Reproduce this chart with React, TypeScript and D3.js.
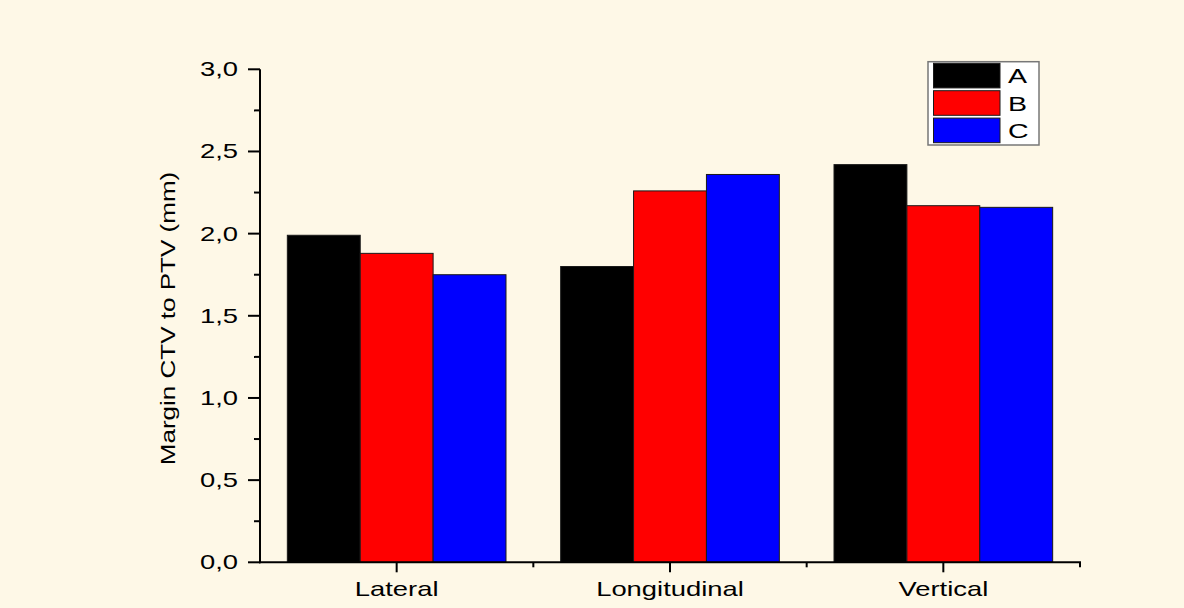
import React from "react";
import * as d3 from "d3";

const categories = ["Lateral", "Longitudinal", "Vertical"];
const seriesNames = ["A", "B", "C"];
const seriesA = [1.99, 1.8, 2.42];
const seriesB = [1.88, 2.26, 2.17];
const seriesC = [1.75, 2.36, 2.16];
const seriesColors = ["#000000", "#ff0000", "#0000ff"];
const yMajorTicks = [0, 0.5, 1, 1.5, 2, 2.5, 3];
const yMinorTicks = [0.25, 0.75, 1.25, 1.75, 2.25, 2.75];

const W = 1184;
const H = 608;
const BG = "#fef8e7";
const FONT = "'Liberation Sans', Arial, sans-serif";
const STRETCH = 1.37;

export default function App() {
  const x0 = 260;
  const x1 = 1080;
  const yTop = 69.3;
  const yBase = 562.3;

  const x = d3.scaleBand<string>().domain(categories).range([x0, x1]).padding(0);
  const bw = x.bandwidth();
  const xs = d3
    .scaleBand<string>()
    .domain(seriesNames)
    .range([bw * 0.1, bw * 0.9])
    .padding(0);
  const y = d3.scaleLinear().domain([0, 3]).range([yBase, yTop]);

  const series = [seriesA, seriesB, seriesC];
  const fmt = (v: number) => v.toFixed(1).replace(".", ",");

  const minorX = categories.map((c) => (x(c) as number) + bw);

  return (
    <div style={{ position: "fixed", left: 0, top: 0, width: W, height: H }}>
      <svg width={W} height={H} style={{ display: "block" }}>
        <rect x={0} y={0} width={W} height={H} fill={BG} />

        {/* bars */}
        {categories.map((c, ci) =>
          seriesNames.map((s, si) => {
            const v = series[si][ci];
            const bx = (x(c) as number) + (xs(s) as number);
            return (
              <rect
                key={c + s}
                x={bx}
                y={y(v)}
                width={xs.bandwidth()}
                height={yBase - y(v)}
                fill={seriesColors[si]}
                stroke="#1a1a1a"
                strokeWidth={1}
              />
            );
          })
        )}

        {/* y axis */}
        <line x1={x0} x2={x0} y1={yTop} y2={yBase + 1} stroke="#000" strokeWidth={2} />
        {yMajorTicks.map((t) => (
          <g key={"ym" + t}>
            <line x1={x0 - 12} x2={x0} y1={y(t)} y2={y(t)} stroke="#000" strokeWidth={2} />
            <text
              transform={`translate(${238},${y(t) + 7}) scale(${STRETCH},1)`}
              textAnchor="end"
              fontFamily={FONT}
              fontSize={20}
              fill="#000"
            >
              {fmt(t)}
            </text>
          </g>
        ))}
        {yMinorTicks.map((t) => (
          <line key={"yn" + t} x1={x0 - 6} x2={x0} y1={y(t)} y2={y(t)} stroke="#000" strokeWidth={2} />
        ))}

        {/* x axis */}
        <line x1={x0 - 1} x2={x1 + 1} y1={yBase} y2={yBase} stroke="#000" strokeWidth={2} />
        {categories.map((c) => {
          const cx = (x(c) as number) + bw / 2;
          return (
            <g key={"xt" + c}>
              <line x1={cx} x2={cx} y1={yBase} y2={yBase + 10} stroke="#000" strokeWidth={2} />
              <text
                transform={`translate(${cx},${596}) scale(${STRETCH},1)`}
                textAnchor="middle"
                fontFamily={FONT}
                fontSize={20}
                fill="#000"
              >
                {c}
              </text>
            </g>
          );
        })}
        {minorX.map((mx) => (
          <line key={"xn" + mx} x1={mx} x2={mx} y1={yBase} y2={yBase + 5} stroke="#000" strokeWidth={2} />
        ))}

        {/* y axis title */}
        <text
          transform={`translate(${175},${318.5}) rotate(-90) scale(1.24,1)`}
          textAnchor="middle"
          fontFamily={FONT}
          fontSize={21}
          fill="#000"
        >
          Margin CTV to PTV (mm)
        </text>

        {/* legend */}
        <rect x={928} y={61.7} width={111} height={83.3} fill="#ffffff" stroke="#777" strokeWidth={1.5} />
        {seriesNames.map((s, i) => {
          const top = 63.3 + i * 27.4;
          return (
            <g key={"lg" + s}>
              <rect x={933.5} y={top} width={66.5} height={24.6} fill={seriesColors[i]} stroke="#1a1a1a" strokeWidth={1} />
              <text
                transform={`translate(${1008},${top + 20}) scale(1.36,1)`}
                fontFamily={FONT}
                fontSize={21}
                fill="#000"
              >
                {s}
              </text>
            </g>
          );
        })}
      </svg>
    </div>
  );
}
